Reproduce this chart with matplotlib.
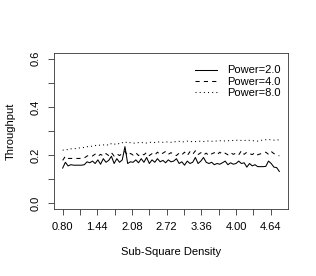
import numpy as np
import matplotlib
matplotlib.use("Agg")
import matplotlib.pyplot as plt

plt.rcParams["font.family"] = ["Liberation Sans", "DejaVu Sans"]

# sub-square density, 0.80 .. 4.80 in steps of 0.05
density = np.round(np.arange(0.80, 4.8001, 0.05), 2)

power_2 = [
    0.146, 0.170, 0.155, 0.160, 0.158, 0.158, 0.158, 0.158, 0.160, 0.172,
    0.168, 0.175, 0.165, 0.180, 0.162, 0.185, 0.170, 0.178, 0.195, 0.165,
    0.185, 0.170, 0.180, 0.235, 0.165, 0.172, 0.170, 0.180, 0.168, 0.185,
    0.170, 0.190, 0.165, 0.180, 0.170, 0.185, 0.172, 0.178, 0.168, 0.180,
    0.172, 0.175, 0.185, 0.165, 0.172, 0.158, 0.175, 0.165, 0.170, 0.190,
    0.165, 0.175, 0.190, 0.170, 0.165, 0.170, 0.160, 0.165, 0.162, 0.168,
    0.175, 0.160, 0.168, 0.162, 0.165, 0.175, 0.165, 0.168, 0.150, 0.165,
    0.155, 0.160, 0.152, 0.152, 0.152, 0.153, 0.175, 0.165, 0.150, 0.148,
    0.132,
]
power_4 = [
    0.178, 0.195, 0.186, 0.186, 0.186, 0.186, 0.186, 0.186, 0.188, 0.196,
    0.200, 0.196, 0.204, 0.195, 0.203, 0.196, 0.206, 0.198, 0.210, 0.196,
    0.205, 0.198, 0.207, 0.215, 0.198, 0.207, 0.200, 0.210, 0.198, 0.206,
    0.201, 0.211, 0.198, 0.206, 0.200, 0.212, 0.202, 0.208, 0.215, 0.203,
    0.210, 0.202, 0.198, 0.208, 0.201, 0.212, 0.198, 0.214, 0.203, 0.218,
    0.202, 0.210, 0.200, 0.208, 0.198, 0.205, 0.210, 0.201, 0.212, 0.203,
    0.208, 0.201, 0.210, 0.203, 0.208, 0.201, 0.218, 0.203, 0.212, 0.206,
    0.202, 0.210, 0.201, 0.205, 0.208, 0.212, 0.203, 0.215, 0.206, 0.201,
    0.197,
]
power_8 = [
    0.220, 0.224, 0.222, 0.226, 0.225, 0.228, 0.229, 0.232, 0.231, 0.235,
    0.234, 0.238, 0.240, 0.238, 0.243, 0.242, 0.245, 0.240, 0.248, 0.244,
    0.250, 0.246, 0.251, 0.256, 0.249, 0.252, 0.250, 0.249, 0.252, 0.251,
    0.253, 0.250, 0.252, 0.254, 0.252, 0.255, 0.254, 0.253, 0.255, 0.254,
    0.253, 0.256, 0.255, 0.257, 0.254, 0.256, 0.258, 0.255, 0.257, 0.256,
    0.258, 0.257, 0.256, 0.259, 0.258, 0.257, 0.259, 0.258, 0.260, 0.258,
    0.259, 0.260, 0.259, 0.261, 0.262, 0.260, 0.261, 0.260, 0.262, 0.261,
    0.260, 0.259, 0.258, 0.261, 0.262, 0.264, 0.265, 0.263, 0.262, 0.264,
    0.262,
]

series = [("Power=2.0", power_2, "-"),
          ("Power=4.0", power_4, (0, (4, 4))),
          ("Power=8.0", power_8, (0, (1, 3)))]

x_ticks = np.round(0.80 + 0.32 * np.arange(13), 2)
y_ticks = np.round(np.arange(0, 0.61, 0.1), 1)

fig = plt.figure(figsize=(3.16, 2.76), dpi=100)
ax = fig.add_axes([54 / 316, 1 - 209 / 276, 234 / 316, 156 / 276])

for label, vals, ls in series:
    ax.plot(density, vals, color="black", lw=0.75, linestyle=ls, label=label)

ax.set_xlim(0.64, 4.96)
ax.set_ylim(-0.024, 0.624)
ax.set_xticks(x_ticks)
ax.set_xticklabels([f"{v:.2f}" if i % 2 == 0 else "" for i, v in enumerate(x_ticks)])
ax.set_yticks(y_ticks)
ax.set_yticklabels([f"{v:.1f}" if i % 2 == 0 else "" for i, v in enumerate(y_ticks)],
                   rotation=90, va="center")
ax.tick_params(direction="out", length=4.5, width=0.6, labelsize=8, color="#333333")
ax.tick_params(axis="x", pad=5)
ax.tick_params(axis="y", pad=5)
for sp in ax.spines.values():
    sp.set_linewidth(0.6)
    sp.set_color("#333333")

ax.set_xlabel("Sub-Square Density", fontsize=8, labelpad=11)
ax.set_ylabel("Throughput", fontsize=8, labelpad=11)

ax.legend(loc="upper right", bbox_to_anchor=(1.0, 0.97), frameon=False, fontsize=8,
          handlelength=2.0, handletextpad=0.9, labelspacing=0.1, borderaxespad=0.3)

fig.savefig("out.png", dpi=100)
